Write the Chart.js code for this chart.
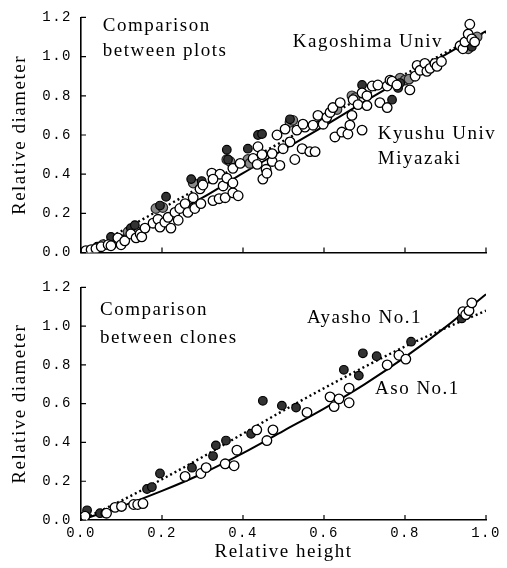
<!DOCTYPE html>
<html>
<head>
<meta charset="utf-8">
<script src="https://cdn.jsdelivr.net/npm/chart.js@4"></script>
<style>
  body { margin: 0; background: #fff; }
  canvas { position: absolute; left: 0; }
  #plots { top: 0; }
  #clones { top: 270px; }
</style>
</head>
<body>
<canvas id="plots" width="507" height="270"></canvas>
<canvas id="clones" width="507" height="298"></canvas>
<script>
// relative height, relative diameter
const kagoshima = [
  [0.01,0.005],[0.04,0.03],[0.074,0.08],[0.123,0.125],[0.133,0.14],[0.195,0.24],[0.21,0.285],
  [0.272,0.375],[0.298,0.365],[0.36,0.525],[0.363,0.475],[0.412,0.53],[0.437,0.6],[0.447,0.605],
  [0.516,0.68],[0.694,0.855],[0.768,0.78],[0.783,0.84],[0.788,0.865],[0.965,1.05]
];
const kyushu = [
  [0.054,0.04],[0.084,0.065],[0.116,0.105],[0.133,0.115],[0.185,0.225],[0.202,0.23],[0.259,0.24],
  [0.277,0.355],[0.36,0.475],[0.368,0.465],[0.412,0.475],[0.417,0.455],[0.516,0.665],[0.523,0.675],
  [0.632,0.73],[0.669,0.8],[0.677,0.79],[0.788,0.89],[0.8,0.88],[0.81,0.885],[0.956,1.04],[0.978,1.1]
];
const miyazaki = [
  [0.012,0.01],[0.025,0.015],[0.037,0.02],[0.05,0.03],[0.067,0.04],[0.074,0.035],[0.091,0.075],
  [0.099,0.04],[0.108,0.06],[0.123,0.095],[0.136,0.075],[0.146,0.095],[0.15,0.08],[0.158,0.125],
  [0.178,0.15],[0.19,0.17],[0.195,0.13],[0.207,0.155],[0.215,0.18],[0.222,0.125],[0.232,0.205],
  [0.24,0.165],[0.244,0.225],[0.257,0.25],[0.264,0.205],[0.277,0.28],[0.281,0.225],[0.296,0.25],
  [0.294,0.325],[0.301,0.345],[0.326,0.265],[0.341,0.275],[0.356,0.28],[0.375,0.305],[0.388,0.29],
  [0.323,0.405],[0.343,0.4],[0.326,0.375],[0.351,0.34],[0.36,0.38],[0.375,0.355],[0.375,0.43],
  [0.393,0.455],[0.425,0.48],[0.435,0.45],[0.437,0.54],[0.447,0.5],[0.449,0.375],[0.457,0.425],
  [0.459,0.405],[0.472,0.465],[0.472,0.505],[0.491,0.445],[0.484,0.6],[0.499,0.53],[0.504,0.63],
  [0.516,0.565],[0.528,0.475],[0.533,0.625],[0.546,0.53],[0.553,0.64],[0.548,0.655],[0.565,0.515],
  [0.578,0.515],[0.573,0.65],[0.585,0.7],[0.598,0.655],[0.607,0.69],[0.615,0.715],[0.622,0.74],
  [0.627,0.59],[0.644,0.615],[0.64,0.765],[0.659,0.605],[0.664,0.65],[0.669,0.7],[0.672,0.78],
  [0.684,0.755],[0.694,0.625],[0.694,0.815],[0.706,0.8],[0.706,0.75],[0.719,0.85],[0.733,0.855],
  [0.738,0.765],[0.756,0.74],[0.756,0.85],[0.763,0.88],[0.768,0.875],[0.78,0.855],[0.812,0.83],
  [0.825,0.9],[0.83,0.955],[0.837,0.93],[0.849,0.965],[0.854,0.925],[0.862,0.94],[0.874,0.965],
  [0.879,0.95],[0.89,0.975],[0.936,1.055],[0.943,1.04],[0.948,1.075],[0.956,1.115],[0.96,1.165],
  [0.965,1.09],[0.972,1.075]
];

const ayasho = [
  [0.015,0.05],[0.047,0.035],[0.06,0.035],[0.163,0.16],[0.175,0.17],[0.195,0.24],[0.274,0.27],
  [0.326,0.33],[0.333,0.385],[0.358,0.41],[0.42,0.445],[0.449,0.615],[0.496,0.59],[0.531,0.58],
  [0.649,0.775],[0.686,0.745],[0.696,0.86],[0.73,0.845],[0.815,0.92],[0.94,1.04],[0.952,1.06]
];
const aso = [
  [0.01,0.02],[0.063,0.035],[0.084,0.065],[0.1,0.07],[0.13,0.08],[0.14,0.08],[0.153,0.085],
  [0.257,0.225],[0.296,0.24],[0.309,0.27],[0.356,0.29],[0.378,0.28],[0.385,0.36],[0.434,0.465],
  [0.459,0.41],[0.474,0.465],[0.558,0.555],[0.615,0.635],[0.625,0.585],[0.637,0.625],[0.662,0.68],
  [0.662,0.605],[0.756,0.8],[0.785,0.85],[0.802,0.83],[0.943,1.075],[0.95,1.06],[0.958,1.08],
  [0.965,1.12]
];

// fitted stem curves
const fitHeight = [0, 0.1, 0.2, 0.3, 0.4, 0.5, 0.6, 0.7, 0.8, 0.9, 1.0];
const plotsSolid = [0, 0.085, 0.175, 0.28, 0.405, 0.525, 0.645, 0.77, 0.89, 1.01, 1.13];
const plotsDotted = [0, 0.11, 0.225, 0.34, 0.455, 0.57, 0.685, 0.8, 0.91, 1.02, 1.125];
const asoFit = [0, 0.07, 0.15, 0.24, 0.345, 0.46, 0.575, 0.7, 0.84, 0.995, 1.165];
const ayashoFit = [0, 0.1, 0.21, 0.325, 0.445, 0.565, 0.68, 0.79, 0.895, 0.99, 1.08];

const yTicks = [0, 0.2, 0.4, 0.6, 0.8, 1.0, 1.2];

const SERIF = '"Liberation Serif", "DejaVu Serif", serif';
const MONO = '"Liberation Mono", "DejaVu Sans Mono", monospace';

const pts = arr => arr.map(p => ({x: p[0], y: p[1]}));
const curve = vals => fitHeight.map((h, i) => ({x: h, y: vals[i]}));

function openSet(data) {
  return {data: pts(data), backgroundColor: '#fff', borderColor: '#000', borderWidth: 1.3, pointRadius: 4.8, order: 1};
}
function darkSet(data) {
  return {data: pts(data), backgroundColor: '#333', borderColor: '#000', borderWidth: 1.2, pointRadius: 4.3, order: 2};
}
function graySet(data) {
  return {data: pts(data), backgroundColor: '#8a8a8a', borderColor: '#222', borderWidth: 1.2, pointRadius: 4.8, order: 3};
}
function lineSet(vals, dashed) {
  return {
    data: curve(vals), showLine: true, pointRadius: 0, borderColor: '#000',
    borderWidth: dashed ? 2.4 : 2, borderDash: dashed ? [2, 3] : [],
    cubicInterpolationMode: 'monotone', fill: false, order: 4
  };
}

// inward tick marks and the text notes inside each panel
const panelMarks = {
  id: 'panelMarks',
  beforeDraw(chart) {
    chart.ctx.letterSpacing = '1.5px';
  },
  afterDraw(chart, args, opts) {
    const {ctx, scales: {x, y}} = chart;
    ctx.save();
    ctx.strokeStyle = '#000';
    ctx.lineWidth = 1.2;
    ctx.beginPath();
    y.ticks.forEach(t => {
      const py = y.getPixelForValue(t.value);
      ctx.moveTo(x.left, py); ctx.lineTo(x.left + 5, py);
    });
    x.ticks.forEach(t => {
      const px = x.getPixelForValue(t.value);
      ctx.moveTo(px, y.bottom); ctx.lineTo(px, y.bottom - 5);
    });
    ctx.stroke();
    ctx.font = '19px ' + SERIF;
    ctx.fillStyle = '#000';
    ctx.textBaseline = 'middle';
    ctx.textAlign = 'left';
    (opts.notes || []).forEach(n => {
      ctx.fillText(n.text, x.getPixelForValue(n.h), y.getPixelForValue(n.d));
    });
    ctx.restore();
  }
};

function panel(id, datasets, notes, withXLabels) {
  return new Chart(document.getElementById(id), {
    type: 'scatter',
    data: {datasets},
    plugins: [panelMarks],
    options: {
      responsive: false,
      animation: false,
      layout: {padding: {top: withXLabels ? 10 : 17, right: 21, left: 0, bottom: 0}},
      plugins: {
        legend: {display: false},
        tooltip: {enabled: false},
        panelMarks: {notes}
      },
      scales: {
        x: {
          type: 'linear', min: 0, max: 1,
          grid: {display: false, drawTicks: false},
          border: {display: true, color: '#000', width: 1.6},
          ticks: {
            display: withXLabels, stepSize: 0.2, padding: 5, color: '#000',
            font: {family: MONO, size: 14},
            callback: v => v.toFixed(1)
          },
          title: {
            display: withXLabels, text: 'Relative height', color: '#000',
            font: {family: SERIF, size: 19}, padding: {top: 0, bottom: 5}
          },
          afterFit: s => { s.height = withXLabels ? 48 : 12; }
        },
        y: {
          type: 'linear', min: 0, max: 1.2,
          grid: {display: false, drawTicks: false},
          border: {display: true, color: '#000', width: 1.6},
          afterBuildTicks: s => { s.ticks = yTicks.map(v => ({value: v})); },
          ticks: {
            padding: 9, color: '#000',
            font: {family: MONO, size: 14},
            callback: v => v.toFixed(1)
          },
          title: {
            display: true, text: 'Relative diameter', color: '#000',
            font: {family: SERIF, size: 19}, padding: {top: 9, bottom: 0}
          },
          afterFit: s => { s.width = 81; }
        }
      }
    }
  });
}

panel('plots', [
  lineSet(plotsSolid, false),
  lineSet(plotsDotted, true),
  graySet(kyushu),
  darkSet(kagoshima),
  openSet(miyazaki)
], [
  {text: 'Comparison', h: 0.054, d: 1.155},
  {text: 'between plots', h: 0.054, d: 1.03},
  {text: 'Kagoshima Univ', h: 0.523, d: 1.075},
  {text: 'Kyushu Univ', h: 0.733, d: 0.605},
  {text: 'Miyazaki', h: 0.733, d: 0.475}
], false);

panel('clones', [
  lineSet(asoFit, false),
  lineSet(ayashoFit, true),
  darkSet(ayasho),
  openSet(aso)
], [
  {text: 'Comparison', h: 0.047, d: 1.085},
  {text: 'between clones', h: 0.047, d: 0.94},
  {text: 'Ayasho No.1', h: 0.558, d: 1.04},
  {text: 'Aso No.1', h: 0.726, d: 0.675}
], true);
</script>
</body>
</html>
